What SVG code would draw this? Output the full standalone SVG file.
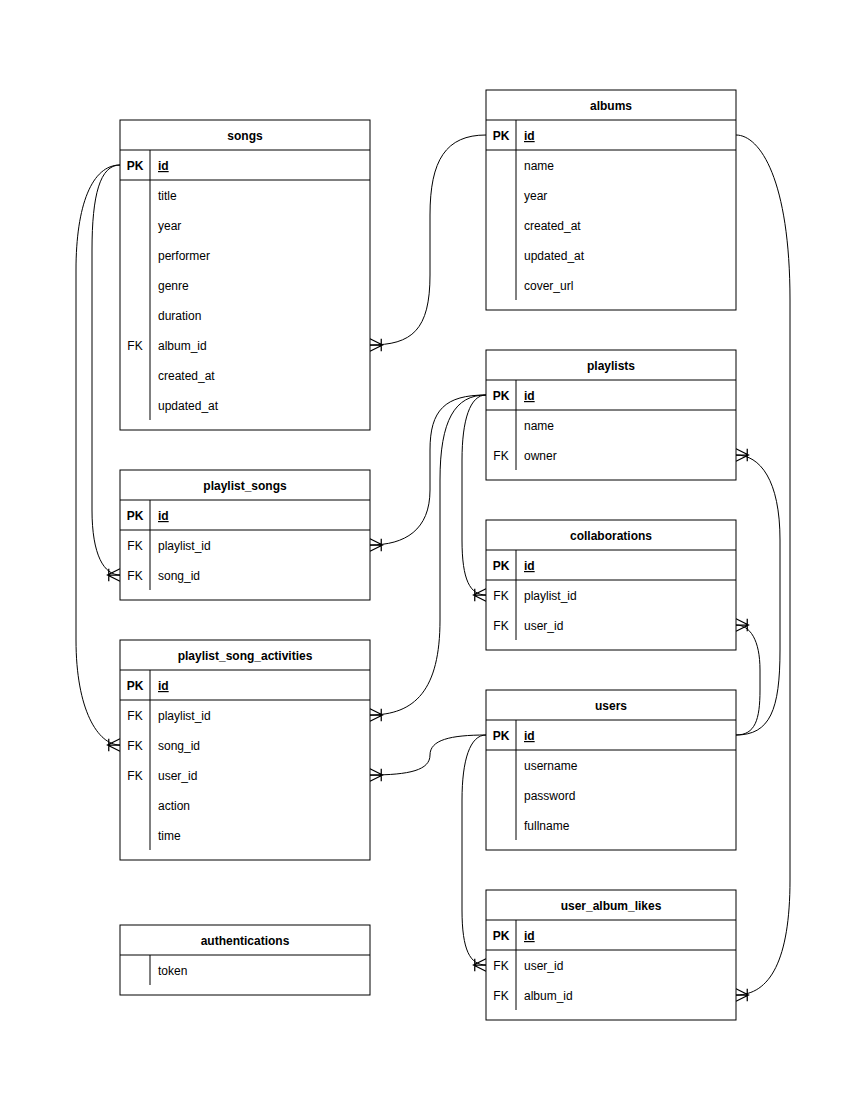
<svg xmlns="http://www.w3.org/2000/svg" width="850" height="1100" viewBox="0 0 850 1100">
<style>
.box{fill:#fff;stroke:#000;stroke-width:1}
.ln{stroke:#000;stroke-width:1;fill:none}
text{font-family:"Liberation Sans",Arial,Helvetica,sans-serif;font-size:12px;fill:#000;transform:translateY(1px)}
.h{font-weight:bold;text-anchor:middle}
.k{text-anchor:middle}
.kb{text-anchor:middle;font-weight:bold}
.pk{font-weight:bold;text-decoration:underline}
.c{stroke:#000;stroke-width:1;fill:none;marker-end:url(#many)}
</style>
<defs>
<marker id="many" markerUnits="userSpaceOnUse" markerWidth="20" markerHeight="20" refX="0" refY="0" viewBox="-12 -8 14 16" orient="auto" overflow="visible">
<path d="M0,-5 L-10,0 L0,5 M0,0 L-10,0 M-9,-5 L-9,5" fill="none" stroke="#000" stroke-width="1"/>
</marker>
</defs>
<rect width="850" height="1100" fill="#fff"/>

<g id="connectors">
<path class="c" d="M486,135 C446,135 430,160 430,215 L430,275 C430,330 412,345 370,345"/>
<path class="c" d="M120,165 C100,165 92,195 92,250 L92,510 C92,555 104,575 120,575"/>
<path class="c" d="M120,165 C92,165 76,205 76,270 L76,640 C76,710 98,745 120,745"/>
<path class="c" d="M486,395 C445,395 430,410 430,450 L430,490 C430,530 405,545 370,545"/>
<path class="c" d="M486,395 C455,395 440,420 440,480 L440,620 C440,690 415,715 370,715"/>
<path class="c" d="M486,395 C470,395 462,420 462,460 L462,540 C462,580 470,595 486,595"/>
<path class="c" d="M736,735 C770,735 780,710 780,650 L780,540 C780,480 760,455 736,455"/>
<path class="c" d="M736,735 C755,735 760,720 760,690 L760,670 C760,640 750,625 736,625"/>
<path class="c" d="M736,135 C760,135 790,180 790,300 L790,880 C790,960 770,995 736,995"/>
<path class="c" d="M486,735 C450,735 430,740 430,755 C430,770 410,775 370,775"/>
<path class="c" d="M486,735 C470,735 462,760 462,800 L462,910 C462,950 470,965 486,965"/>
</g>

<g id="songs">
<rect class="box" x="120" y="120" width="250" height="310"/>
<line class="ln" x1="120" y1="150" x2="370" y2="150"/>
<line class="ln" x1="120" y1="180" x2="370" y2="180"/>
<line class="ln" x1="150" y1="150" x2="150" y2="180"/>
<line class="ln" x1="150" y1="180" x2="150" y2="420"/>
<text class="h" x="245" y="139">songs</text>
<text class="kb" x="135" y="169">PK</text><text class="pk" x="158" y="169">id</text>
<text x="158" y="199">title</text>
<text x="158" y="229">year</text>
<text x="158" y="259">performer</text>
<text x="158" y="289">genre</text>
<text x="158" y="319">duration</text>
<text class="k" x="135" y="349">FK</text><text x="158" y="349">album_id</text>
<text x="158" y="379">created_at</text>
<text x="158" y="409">updated_at</text>
</g>

<g id="albums">
<rect class="box" x="486" y="90" width="250" height="220"/>
<line class="ln" x1="486" y1="120" x2="736" y2="120"/>
<line class="ln" x1="486" y1="150" x2="736" y2="150"/>
<line class="ln" x1="516" y1="120" x2="516" y2="150"/>
<line class="ln" x1="516" y1="150" x2="516" y2="300"/>
<text class="h" x="611" y="109">albums</text>
<text class="kb" x="501" y="139">PK</text><text class="pk" x="524" y="139">id</text>
<text x="524" y="169">name</text>
<text x="524" y="199">year</text>
<text x="524" y="229">created_at</text>
<text x="524" y="259">updated_at</text>
<text x="524" y="289">cover_url</text>
</g>

<g id="playlists">
<rect class="box" x="486" y="350" width="250" height="130"/>
<line class="ln" x1="486" y1="380" x2="736" y2="380"/>
<line class="ln" x1="486" y1="410" x2="736" y2="410"/>
<line class="ln" x1="516" y1="380" x2="516" y2="410"/>
<line class="ln" x1="516" y1="410" x2="516" y2="470"/>
<text class="h" x="611" y="369">playlists</text>
<text class="kb" x="501" y="399">PK</text><text class="pk" x="524" y="399">id</text>
<text x="524" y="429">name</text>
<text class="k" x="501" y="459">FK</text><text x="524" y="459">owner</text>
</g>

<g id="collaborations">
<rect class="box" x="486" y="520" width="250" height="130"/>
<line class="ln" x1="486" y1="550" x2="736" y2="550"/>
<line class="ln" x1="486" y1="580" x2="736" y2="580"/>
<line class="ln" x1="516" y1="550" x2="516" y2="580"/>
<line class="ln" x1="516" y1="580" x2="516" y2="640"/>
<text class="h" x="611" y="539">collaborations</text>
<text class="kb" x="501" y="569">PK</text><text class="pk" x="524" y="569">id</text>
<text class="k" x="501" y="599">FK</text><text x="524" y="599">playlist_id</text>
<text class="k" x="501" y="629">FK</text><text x="524" y="629">user_id</text>
</g>

<g id="users">
<rect class="box" x="486" y="690" width="250" height="160"/>
<line class="ln" x1="486" y1="720" x2="736" y2="720"/>
<line class="ln" x1="486" y1="750" x2="736" y2="750"/>
<line class="ln" x1="516" y1="720" x2="516" y2="750"/>
<line class="ln" x1="516" y1="750" x2="516" y2="840"/>
<text class="h" x="611" y="709">users</text>
<text class="kb" x="501" y="739">PK</text><text class="pk" x="524" y="739">id</text>
<text x="524" y="769">username</text>
<text x="524" y="799">password</text>
<text x="524" y="829">fullname</text>
</g>

<g id="user_album_likes">
<rect class="box" x="486" y="890" width="250" height="130"/>
<line class="ln" x1="486" y1="920" x2="736" y2="920"/>
<line class="ln" x1="486" y1="950" x2="736" y2="950"/>
<line class="ln" x1="516" y1="920" x2="516" y2="950"/>
<line class="ln" x1="516" y1="950" x2="516" y2="1010"/>
<text class="h" x="611" y="909">user_album_likes</text>
<text class="kb" x="501" y="939">PK</text><text class="pk" x="524" y="939">id</text>
<text class="k" x="501" y="969">FK</text><text x="524" y="969">user_id</text>
<text class="k" x="501" y="999">FK</text><text x="524" y="999">album_id</text>
</g>

<g id="playlist_songs">
<rect class="box" x="120" y="470" width="250" height="130"/>
<line class="ln" x1="120" y1="500" x2="370" y2="500"/>
<line class="ln" x1="120" y1="530" x2="370" y2="530"/>
<line class="ln" x1="150" y1="500" x2="150" y2="530"/>
<line class="ln" x1="150" y1="530" x2="150" y2="590"/>
<text class="h" x="245" y="489">playlist_songs</text>
<text class="kb" x="135" y="519">PK</text><text class="pk" x="158" y="519">id</text>
<text class="k" x="135" y="549">FK</text><text x="158" y="549">playlist_id</text>
<text class="k" x="135" y="579">FK</text><text x="158" y="579">song_id</text>
</g>

<g id="playlist_song_activities">
<rect class="box" x="120" y="640" width="250" height="220"/>
<line class="ln" x1="120" y1="670" x2="370" y2="670"/>
<line class="ln" x1="120" y1="700" x2="370" y2="700"/>
<line class="ln" x1="150" y1="670" x2="150" y2="700"/>
<line class="ln" x1="150" y1="700" x2="150" y2="850"/>
<text class="h" x="245" y="659">playlist_song_activities</text>
<text class="kb" x="135" y="689">PK</text><text class="pk" x="158" y="689">id</text>
<text class="k" x="135" y="719">FK</text><text x="158" y="719">playlist_id</text>
<text class="k" x="135" y="749">FK</text><text x="158" y="749">song_id</text>
<text class="k" x="135" y="779">FK</text><text x="158" y="779">user_id</text>
<text x="158" y="809">action</text>
<text x="158" y="839">time</text>
</g>

<g id="authentications">
<rect class="box" x="120" y="925" width="250" height="70"/>
<line class="ln" x1="120" y1="955" x2="370" y2="955"/>
<line class="ln" x1="150" y1="955" x2="150" y2="985"/>
<text class="h" x="245" y="944">authentications</text>
<text x="158" y="974">token</text>
</g>
</svg>
